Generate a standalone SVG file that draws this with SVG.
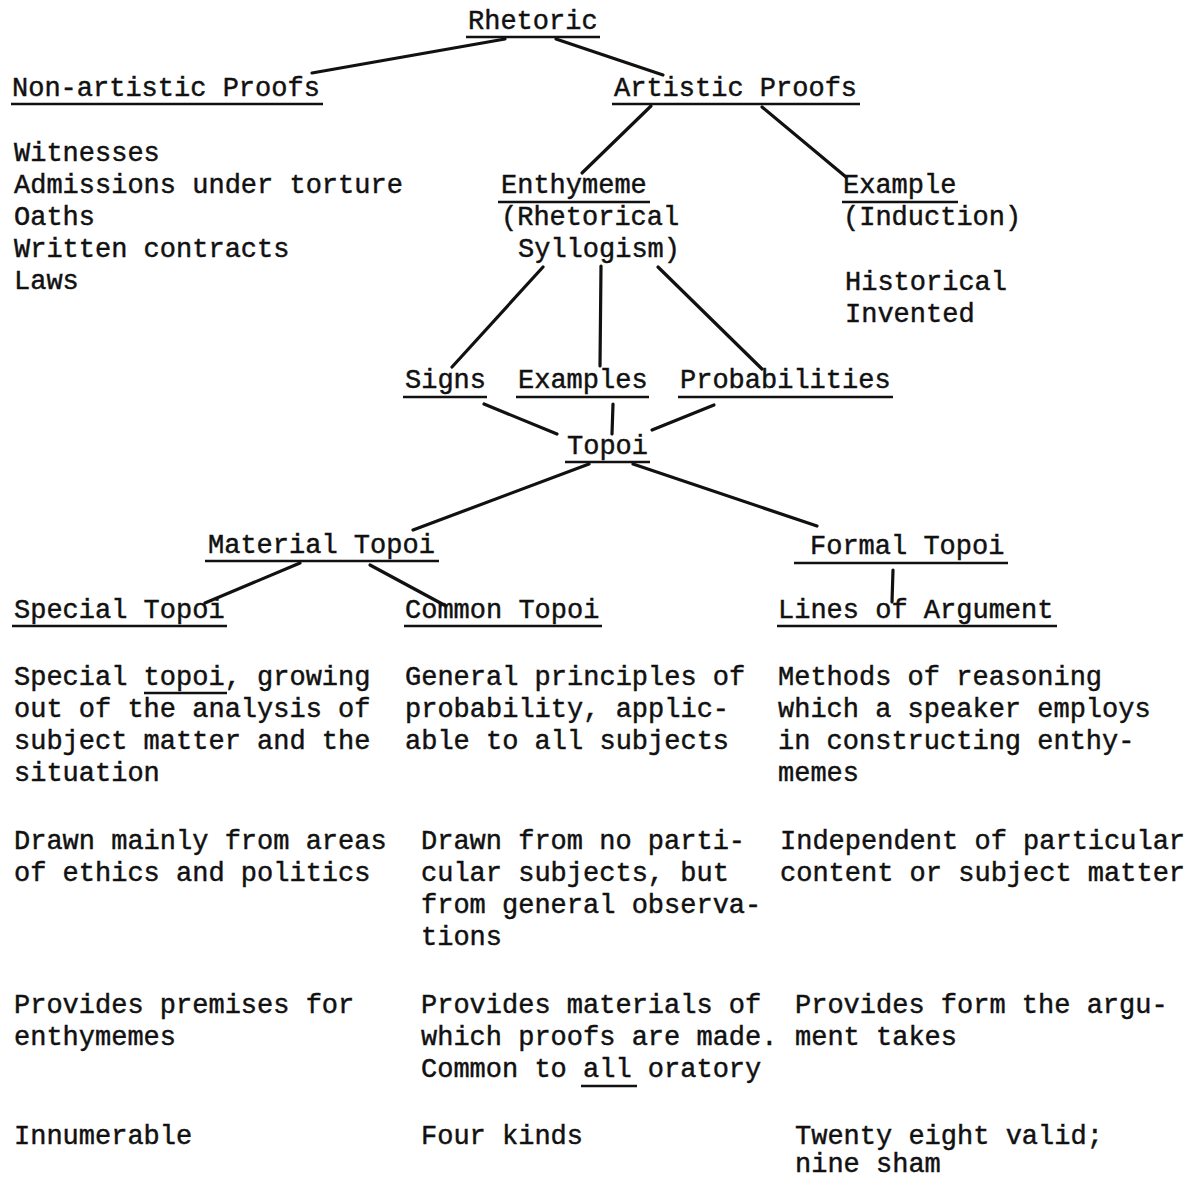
<svg xmlns="http://www.w3.org/2000/svg" width="1201" height="1180" viewBox="0 0 1201 1180">
<style>
text{font-family:"Liberation Mono","Courier New",monospace;font-size:27px;fill:#111;stroke:#111;stroke-width:0.45}
.ul{stroke:#111;stroke-width:2.6;fill:none}
.c{stroke:#111;stroke-width:3.2;fill:none;stroke-linecap:round}
</style>
<rect width="1201" height="1180" fill="#fff"/>
<g id="connectors">
<path class="c" d="M505,39 L312,73"/>
<path class="c" d="M556,39 L663,75"/>
<path class="c" d="M651,106 L582,173"/>
<path class="c" d="M762,107 L846,177"/>
<path class="c" d="M543,267 L452,367"/>
<path class="c" d="M601,266 L600,366"/>
<path class="c" d="M658,267 L762,369"/>
<path class="c" d="M484,404 L557,434"/>
<path class="c" d="M613,404 L612,434"/>
<path class="c" d="M714,405 L652,430"/>
<path class="c" d="M589,464 L413,530"/>
<path class="c" d="M633,464 L817,526"/>
<path class="c" d="M300,563 L205,603"/>
<path class="c" d="M370,565 L446,606"/>
<path class="c" d="M893,570 L892,602"/>
</g>
<g id="rhetoric"><text x="468" y="29">Rhetoric</text><line class="ul" x1="466" y1="37" x2="600" y2="37"/></g>
<g id="non-artistic-proofs"><text x="12" y="96">Non-artistic Proofs</text><line class="ul" x1="11" y1="104" x2="323" y2="104"/></g>
<g id="non-artistic-list">
<text x="14" y="161">Witnesses</text>
<text x="14" y="193">Admissions under torture</text>
<text x="14" y="225">Oaths</text>
<text x="14" y="257">Written contracts</text>
<text x="14" y="289">Laws</text>
</g>
<g id="artistic-proofs"><text x="614" y="96">Artistic Proofs</text><line class="ul" x1="612" y1="104" x2="860" y2="104"/></g>
<g id="enthymeme"><text x="501" y="193">Enthymeme</text><line class="ul" x1="498" y1="202" x2="650" y2="202"/>
<text x="501" y="225">(Rhetorical</text>
<text x="518" y="257">Syllogism)</text></g>
<g id="example"><text x="843" y="193">Example</text><line class="ul" x1="842" y1="202" x2="958" y2="202"/>
<text x="843" y="225">(Induction)</text></g>
<g id="example-list">
<text x="845" y="290">Historical</text>
<text x="845" y="322">Invented</text>
</g>
<g id="signs"><text x="405" y="388">Signs</text><line class="ul" x1="403" y1="397" x2="487" y2="397"/></g>
<g id="examples"><text x="518" y="388">Examples</text><line class="ul" x1="516" y1="397" x2="649" y2="397"/></g>
<g id="probabilities"><text x="680" y="388">Probabilities</text><line class="ul" x1="678" y1="397" x2="893" y2="397"/></g>
<g id="topoi"><text x="567" y="454">Topoi</text><line class="ul" x1="565" y1="462" x2="650" y2="462"/></g>
<g id="material-topoi"><text x="208" y="553">Material Topoi</text><line class="ul" x1="205" y1="561" x2="439" y2="561"/></g>
<g id="formal-topoi"><text x="810" y="554">Formal Topoi</text><line class="ul" x1="794" y1="563" x2="1008" y2="563"/></g>
<g id="special-topoi"><text x="14" y="618">Special Topoi</text><line class="ul" x1="12" y1="626" x2="227" y2="626"/></g>
<g id="common-topoi"><text x="405" y="618">Common Topoi</text><line class="ul" x1="404" y1="626" x2="602" y2="626"/></g>
<g id="lines-of-argument"><text x="778" y="618">Lines of Argument</text><line class="ul" x1="777" y1="626" x2="1057" y2="626"/></g>
<g id="special-desc">
<text x="14" y="685">Special topoi, growing</text><line class="ul" x1="144" y1="693" x2="227" y2="693" stroke-width="2"/>
<text x="14" y="717">out of the analysis of</text>
<text x="14" y="749">subject matter and the</text>
<text x="14" y="781">situation</text>
<text x="14" y="849">Drawn mainly from areas</text>
<text x="14" y="881">of ethics and politics</text>
<text x="14" y="1013">Provides premises for</text>
<text x="14" y="1045">enthymemes</text>
<text x="14" y="1144">Innumerable</text>
</g>
<g id="common-desc">
<text x="405" y="685">General principles of</text>
<text x="405" y="717">probability, applic-</text>
<text x="405" y="749">able to all subjects</text>
<text x="421" y="849">Drawn from no parti-</text>
<text x="421" y="881">cular subjects, but</text>
<text x="421" y="913">from general observa-</text>
<text x="421" y="945">tions</text>
<text x="421" y="1013">Provides materials of</text>
<text x="421" y="1045">which proofs are made.</text>
<text x="421" y="1077">Common to all oratory</text><line class="ul" x1="581" y1="1086" x2="637" y2="1086" stroke-width="2"/>
<text x="421" y="1144">Four kinds</text>
</g>
<g id="formal-desc">
<text x="778" y="685">Methods of reasoning</text>
<text x="778" y="717">which a speaker employs</text>
<text x="778" y="749">in constructing enthy-</text>
<text x="778" y="781">memes</text>
<text x="780" y="849">Independent of particular</text>
<text x="780" y="881">content or subject matter</text>
<text x="795" y="1013">Provides form the argu-</text>
<text x="795" y="1045">ment takes</text>
<text x="795" y="1144">Twenty eight valid;</text>
<text x="795" y="1172">nine sham</text>
</g>
</svg>
